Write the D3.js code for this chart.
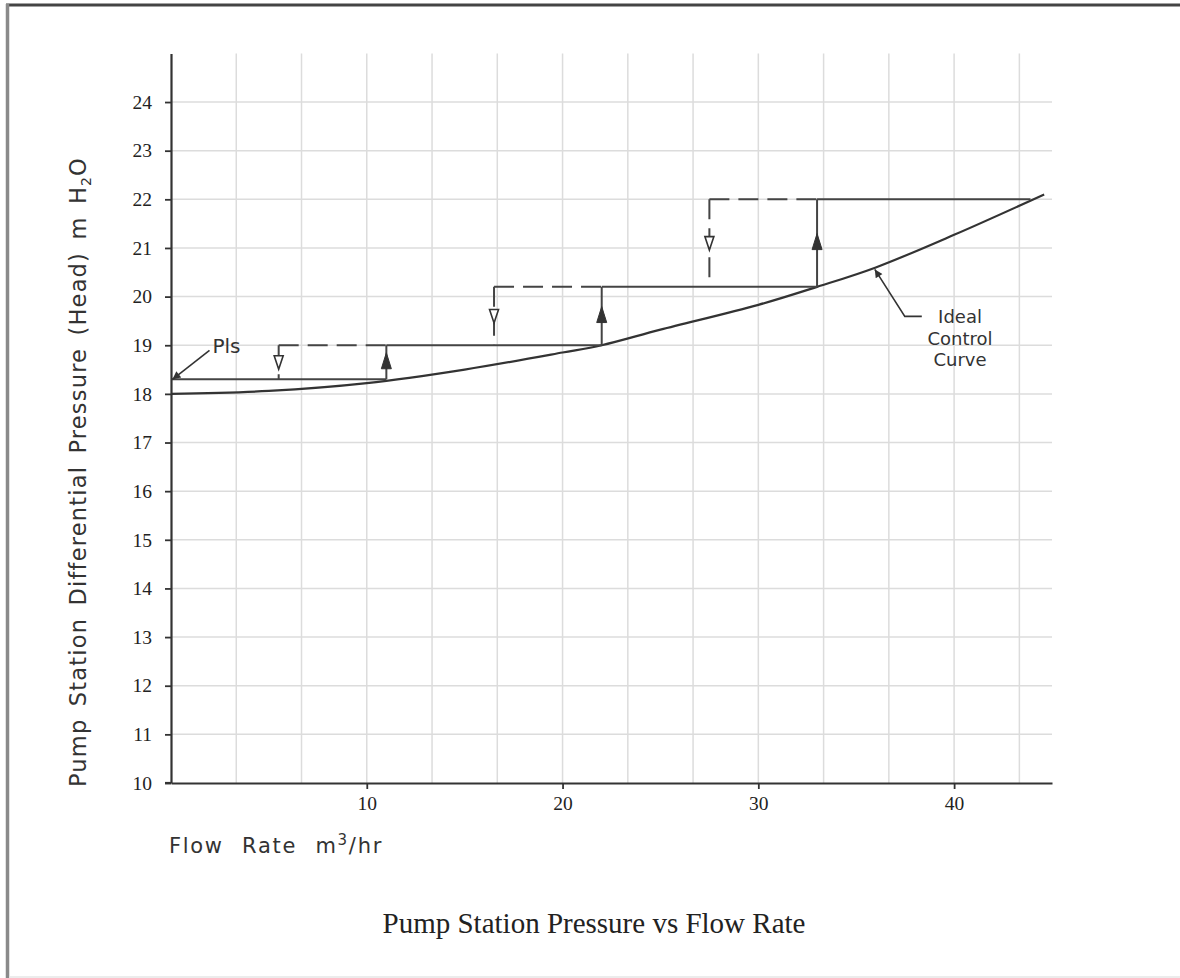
<!DOCTYPE html>
<html>
<head>
<meta charset="utf-8">
<script src="https://cdn.jsdelivr.net/npm/d3@7"></script>
<style>
html, body { margin: 0; padding: 0; background: #fff; }
svg { display: block; }
</style>
</head>
<body>
<svg id="chart" width="1180" height="978"></svg>
<script>
// ideal control curve
const curveFlow = [0, 5, 10, 15, 20, 22, 25, 30, 33, 36, 40, 44.6];
const curveHead = [18.0, 18.06, 18.22, 18.5, 18.85, 19.0, 19.32, 19.83, 20.2, 20.6, 21.27, 22.1];
// stepped setpoint levels
const stepFrom = [0, 11, 22, 33];
const stepTo = [11, 22, 33, 43.9];
const stepHead = [18.3, 19.0, 20.2, 22.0];
// where the setpoint steps up / falls back
const riseFlow = [11, 22, 33];
const dropFlow = [5.5, 16.5, 27.5];
const xTicks = [10, 20, 30, 40];
const yTicks = [10, 11, 12, 13, 14, 15, 16, 17, 18, 19, 20, 21, 22, 23, 24];
const gridStep = 10 / 3;

const svg = d3.select("#chart");
const x = d3.scaleLinear().domain([0, 45]).range([171, 1052]);
const y = d3.scaleLinear().domain([10, 25]).range([783, 53.4]);
const ink = "#333";

// page frame
svg.append("line").attr("x1", 6).attr("x2", 1180).attr("y1", 5).attr("y2", 5).attr("stroke", "#444").attr("stroke-width", 3);
svg.append("line").attr("x1", 7.5).attr("x2", 7.5).attr("y1", 4).attr("y2", 978).attr("stroke", "#8a8a8a").attr("stroke-width", 3.5);
svg.append("line").attr("x1", 9).attr("x2", 1180).attr("y1", 977).attr("y2", 977).attr("stroke", "#e6e6e6").attr("stroke-width", 1.5);

// grid
const grid = svg.append("g").attr("stroke", "#dcdcdc").attr("stroke-width", 1.5);
grid.selectAll("line.v").data(d3.range(1, 14).map(i => i * gridStep)).enter().append("line")
    .attr("class", "v").attr("x1", d => x(d)).attr("x2", d => x(d)).attr("y1", y(10)).attr("y2", y(25));
grid.selectAll("line.h").data(yTicks.slice(1)).enter().append("line")
    .attr("class", "h").attr("x1", x(0)).attr("x2", x(45)).attr("y1", d => y(d)).attr("y2", d => y(d));

// ideal curve
const curvePts = curveFlow.map((f, i) => [f, curveHead[i]]);
svg.append("path").datum(curvePts)
    .attr("d", d3.line().x(d => x(d[0])).y(d => y(d[1])).curve(d3.curveCatmullRom.alpha(0.5)))
    .attr("fill", "none").attr("stroke", ink).attr("stroke-width", 2.2);

// setpoint steps
const steps = svg.append("g").attr("stroke", "#444").attr("stroke-width", 2).attr("fill", "none");
steps.selectAll("line.level").data(stepHead).enter().append("line")
    .attr("x1", (d, i) => x(stepFrom[i])).attr("x2", (d, i) => x(stepTo[i]))
    .attr("y1", d => y(d)).attr("y2", d => y(d));
// dashed fall-back paths
const dash = "20,9";
riseFlow.forEach((rf, i) => {
    const top = stepHead[i + 1], bot = stepHead[i], df = dropFlow[i];
    steps.append("line").attr("x1", x(df)).attr("x2", x(rf)).attr("y1", y(top)).attr("y2", y(top)).attr("stroke-dasharray", dash);
    steps.append("line").attr("x1", x(df)).attr("x2", x(df)).attr("y1", y(top)).attr("y2", y(bot)).attr("stroke-dasharray", dash);
    steps.append("line").attr("x1", x(rf)).attr("x2", x(rf)).attr("y1", y(bot)).attr("y2", y(top));
    // open arrow pointing down on dashed riser
    const m1 = (y(top) + y(bot)) / 2, cx1 = x(df);
    svg.append("path").attr("d", `M${cx1},${m1 + 7}L${cx1 + 4.5},${m1 - 6.5}L${cx1 - 4.5},${m1 - 6.5}Z`)
        .attr("fill", "#fff").attr("stroke", ink).attr("stroke-width", 1.6);
    // filled arrow pointing up on solid riser
    const m2 = (y(top) + y(bot)) / 2 - 1, cx2 = x(rf);
    svg.append("path").attr("d", `M${cx2},${m2 - 8.5}L${cx2 + 5},${m2 + 7.5}L${cx2 - 5},${m2 + 7.5}Z`)
        .attr("fill", ink).attr("stroke", ink).attr("stroke-width", 1);
});

// axes
const yAxis = svg.append("g").attr("transform", `translate(${x(0)},0)`)
    .call(d3.axisLeft(y).tickValues(yTicks).tickSize(6).tickSizeOuter(0).tickPadding(13).tickFormat(d3.format("d")));
const xAxis = svg.append("g").attr("transform", `translate(0,${y(10)})`)
    .call(d3.axisBottom(x).tickValues(xTicks).tickSize(6).tickSizeOuter(0).tickPadding(7).tickFormat(d3.format("d")));
[yAxis, xAxis].forEach(a => {
    a.select(".domain").attr("stroke", ink).attr("stroke-width", 2.2);
    a.selectAll(".tick line").attr("stroke", ink).attr("stroke-width", 1.8);
    a.selectAll(".tick text").attr("fill", "#222")
        .style("font-family", "'Liberation Serif', 'Times New Roman', serif").style("font-size", "19.5px");
});
// x axis stub to the left like the drawing
svg.append("line").attr("x1", x(0) - 6).attr("x2", x(0)).attr("y1", y(10)).attr("y2", y(10)).attr("stroke", ink).attr("stroke-width", 2.2);

// axis titles
const sans = "'DejaVu Sans', Verdana, sans-serif";
const yTitle = svg.append("text").attr("transform", "translate(86,472) rotate(-90)")
    .attr("text-anchor", "middle")
    .style("font-family", sans).style("font-size", "22.5px").style("letter-spacing", "1.2px").style("word-spacing", "4px")
    .attr("fill", ink);
yTitle.append("tspan").text("Pump Station Differential Pressure (Head) m H");
yTitle.append("tspan").attr("dy", 5).style("font-size", "14px").text("2");
yTitle.append("tspan").attr("dy", -5).text("O");

const xTitle = svg.append("text").attr("x", 169).attr("y", 853)
    .style("font-family", sans).style("font-size", "21px").style("letter-spacing", "1.7px").style("word-spacing", "10px")
    .attr("fill", ink);
xTitle.append("tspan").text("Flow Rate m");
xTitle.append("tspan").attr("dy", -8).style("font-size", "15px").text("3");
xTitle.append("tspan").attr("dy", 8).text("/hr");

// chart title
svg.append("text").attr("x", 594).attr("y", 933).attr("text-anchor", "middle")
    .style("font-family", "'Liberation Serif', 'Times New Roman', serif").style("font-size", "29px").attr("fill", "#222")
    .text("Pump Station Pressure vs Flow Rate");

// leader arrowhead
svg.append("defs").append("marker").attr("id", "lead").attr("viewBox", "0 0 10 10")
    .attr("refX", 10).attr("refY", 5).attr("markerWidth", 14).attr("markerHeight", 8)
    .attr("markerUnits", "userSpaceOnUse").attr("orient", "auto")
    .append("path").attr("d", "M0,0L10,5L0,10Z").attr("fill", ink);

// PIs annotation
const pTip = [x(stepFrom[0]) + 1.5, y(stepHead[0])];
svg.append("path").attr("d", `M${pTip[0] + 37},${pTip[1] - 29}L${pTip[0]},${pTip[1]}`)
    .attr("stroke", ink).attr("stroke-width", 1.6).attr("fill", "none").attr("marker-end", "url(#lead)");
svg.append("text").attr("x", pTip[0] + 40).attr("y", pTip[1] - 26)
    .style("font-family", sans).style("font-size", "20px").attr("fill", ink).text("Pls");

// ideal control curve annotation
const iTip = [x(curveFlow[9]) - 1, y(curveHead[9]) + 2];
svg.append("path").attr("d", `M${iTip[0] + 47},${iTip[1] + 47}L${iTip[0] + 30},${iTip[1] + 47}L${iTip[0]},${iTip[1]}`)
    .attr("stroke", ink).attr("stroke-width", 1.6).attr("fill", "none").attr("marker-end", "url(#lead)");
const lbl = svg.append("text").attr("text-anchor", "middle")
    .style("font-family", sans).style("font-size", "18px").attr("fill", ink);
["Ideal", "Control", "Curve"].forEach((t, i) => {
    lbl.append("tspan").attr("x", 960).attr("y", 323 + i * 21.5).text(t);
});
</script>
</body>
</html>
